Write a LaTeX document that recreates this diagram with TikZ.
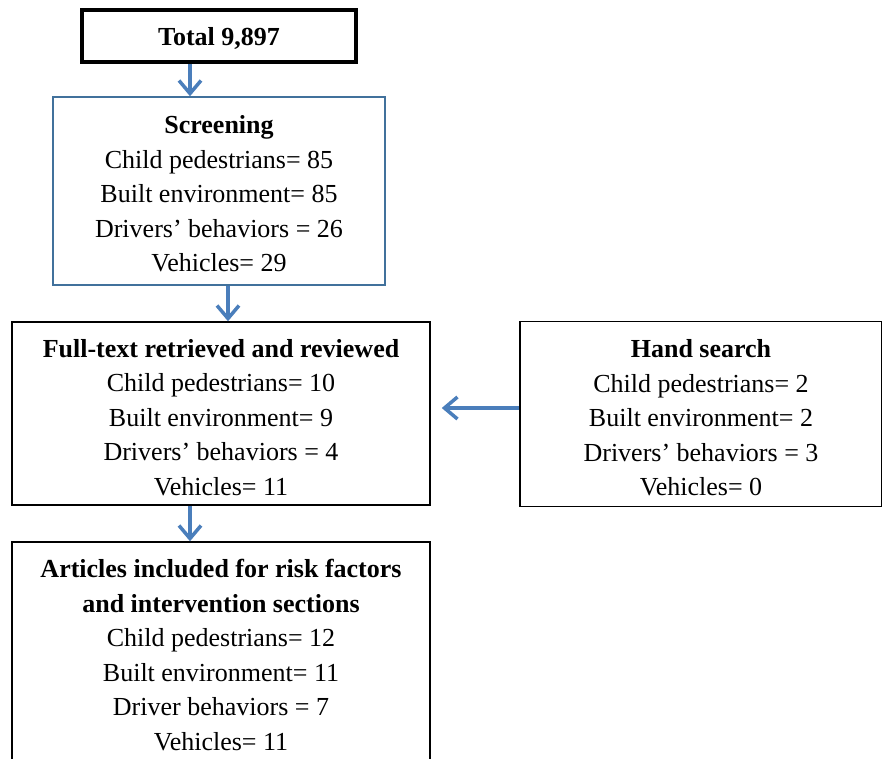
\documentclass[tikz,border=0pt]{standalone}
\usepackage{fontspec}
\setmainfont{Liberation Serif}
\usetikzlibrary{arrows.meta}
\definecolor{boxblue}{RGB}{65,113,156}
\definecolor{arrowblue}{RGB}{74,126,187}
\newcommand\tstrut[1]{\rule{0pt}{#1}}
\newcommand\dstrut[1]{\rule[-#1]{0pt}{0pt}}
\begin{document}
\begin{tikzpicture}[x=1pt,y=-1pt,
  box/.style={draw=black, line width=1.5pt, align=center, inner sep=0pt, font=\fontsize{26}{34.5}\selectfont},
  flow/.style={draw=arrowblue, line width=3.5pt, -{Straight Barb[length=13pt,width=22pt]}}]
\useasboundingbox (0,0) rectangle (882,758);
\clip (0,0) rectangle (882,758);
\node[box, line width=4pt, minimum width=274pt, minimum height=52pt] (total) at (219,36) {\tstrut{24pt}\textbf{Total 9,897}};
\node[box, draw=boxblue, minimum width=332pt, minimum height=188pt] (screen) at (219,191)
  {\tstrut{24pt}\textbf{Screening}\\Child pedestrians= 85\\Built environment= 85\\Drivers’ behaviors = 26\\Vehicles= 29};
\node[box, minimum width=418pt, minimum height=183pt] (full) at (221,413.5)
  {\tstrut{26pt}\textbf{Full-text retrieved and reviewed}\\Child pedestrians= 10\\Built environment= 9\\Drivers’ behaviors = 4\\Vehicles= 11};
\node[box, minimum width=362pt, minimum height=185pt] (hand) at (701,414)
  {\tstrut{26pt}\textbf{Hand search}\\Child pedestrians= 2\\Built environment= 2\\Drivers’ behaviors = 3\\Vehicles= 0};
\node[box, minimum width=418pt, minimum height=232pt] (art) at (221,658)
  {\textbf{Articles included for risk factors}\\\textbf{and intervention sections}\\Child pedestrians= 12\\Built environment= 11\\Driver behaviors = 7\\Vehicles= 11\dstrut{6pt}};
\draw[flow] ([xshift=-29pt]total.south) -- ([xshift=-29pt]total.south |- screen.north);
\draw[flow] ([xshift=9pt]screen.south) -- ([xshift=9pt]screen.south |- full.north);
\draw[flow] ([xshift=-31pt]full.south) -- ([xshift=-31pt]full.south |- art.north);
\draw[flow, shorten >=11pt] ([yshift=6pt]hand.west) -- ([yshift=6pt]hand.west -| full.east);
\end{tikzpicture}
\end{document}
